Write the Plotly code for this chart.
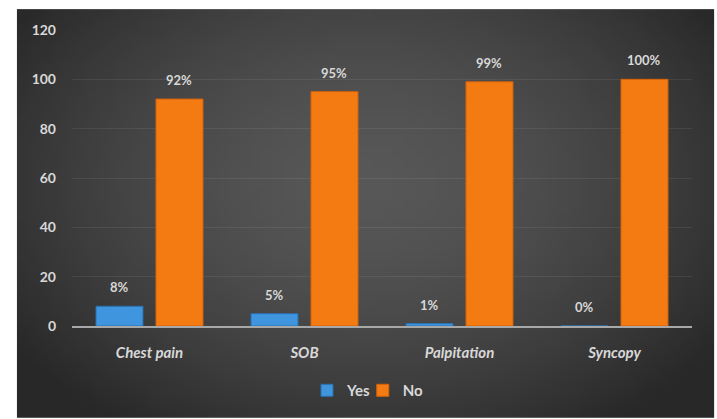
import base64
import struct
import zlib
import plotly.graph_objects as go

categories = ["Chest pain", "SOB", "Palpitation", "Syncopy"]
yes_values = [8, 5, 1, 0]
no_values = [92, 95, 99, 100]
yes_labels = ["8%", "5%", "1%", "0%"]
no_labels = ["92%", "95%", "99%", "100%"]
y_ticks = [0, 20, 40, 60, 80, 100, 120]

txt = "#d8d8d8"
font_family = "Lato"


def vignette_png(w=64, h=40, center=(0.5, 0.42), c_in=88, c_out=40):
    rows = b""
    for j in range(h):
        row = b"\x00"
        for i in range(w):
            dx = (i / (w - 1) - center[0]) / 0.62
            dy = (j / (h - 1) - center[1]) / 0.75
            d = min(1.0, (dx * dx + dy * dy) ** 0.5)
            v = int(c_out + (c_in - c_out) * (1 - d ** 1.6))
            row += bytes((v, v, v))
        rows += row

    def chunk(tag, data):
        c = struct.pack(">I", len(data)) + tag + data
        return c + struct.pack(">I", zlib.crc32(tag + data) & 0xFFFFFFFF)

    png = b"\x89PNG\r\n\x1a\n"
    png += chunk(b"IHDR", struct.pack(">IIBBBBB", w, h, 8, 2, 0, 0, 0))
    png += chunk(b"IDAT", zlib.compress(rows, 9))
    png += chunk(b"IEND", b"")
    return "data:image/png;base64," + base64.b64encode(png).decode()


fig = go.Figure()
fig.add_trace(go.Bar(
    name="Yes", x=categories, y=yes_values, legend="legend",
    marker=dict(color="#3f95de", line=dict(color="#2b70b2", width=1)),
    hoverinfo="x+y",
))
fig.add_trace(go.Bar(
    name="No", x=categories, y=no_values, legend="legend2",
    marker=dict(color="#f47a12", line=dict(color="#d6640a", width=1)),
    hoverinfo="x+y",
))

bargap = 0.226
slot_half = (1 - bargap) / 4
annotations = []
for i, (yv, nv, yl, nl) in enumerate(zip(yes_values, no_values, yes_labels, no_labels)):
    for val, lab, off in ((yv, yl, -slot_half), (nv, nl, slot_half)):
        annotations.append(dict(
            x=i + off, y=val, xref="x", yref="y", text=lab, showarrow=False,
            yanchor="bottom", yshift=9,
            font=dict(size=13, color=txt, family=font_family, weight="bold"),
        ))

legend_common = dict(
    orientation="h", xanchor="left", y=-0.218, yanchor="middle",
    font=dict(size=15, color=txt, family=font_family, weight="bold"),
    bgcolor="rgba(0,0,0,0)", itemwidth=30,
)

fig.update_layout(
    width=717, height=419,
    margin=dict(l=72, r=25, t=30, b=91),
    paper_bgcolor="white",
    plot_bgcolor="rgba(0,0,0,0)",
    barmode="group", bargap=bargap, bargroupgap=0.217,
    images=[dict(
        source=vignette_png(), xref="paper", yref="paper",
        x=-0.0888, y=1.0705, sizex=1.1245, sizey=1.3805,
        xanchor="left", yanchor="top", sizing="stretch", layer="below",
    )],
    annotations=annotations,
    font=dict(family=font_family, color=txt),
    showlegend=True,
    legend=dict(x=0.379, **legend_common),
    legend2=dict(x=0.469, **legend_common),
    xaxis=dict(
        showgrid=False, showline=True, linecolor="#a8a8a8", linewidth=2,
        ticks="", tickfont=dict(size=15, color=txt, family=font_family, weight="bold", style="italic"),
        ticklabelstandoff=12,
    ),
    yaxis=dict(
        range=[0, 120], tickvals=y_ticks, showgrid=True,
        gridcolor="rgba(255,255,255,0.07)", gridwidth=1,
        zeroline=False, showline=False, ticks="",
        tickfont=dict(size=14, color=txt, family=font_family, weight="bold"),
        ticklabelstandoff=15,
    ),
)

fig.write_html("out.html")
